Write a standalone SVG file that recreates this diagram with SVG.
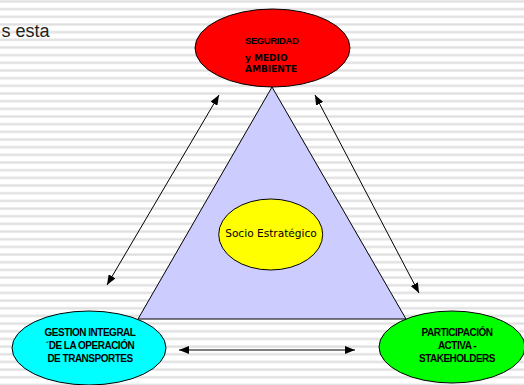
<svg xmlns="http://www.w3.org/2000/svg" width="524" height="385" viewBox="0 0 524 385">
  <defs>
    <pattern id="stripes" patternUnits="userSpaceOnUse" x="0" y="0" width="524" height="7.67">
      <rect x="0" y="0" width="524" height="7.67" fill="#ffffff"/>
      <rect x="0" y="0.3" width="524" height="2.3" fill="#e0e0e0"/>
    </pattern>
    <marker id="ah" viewBox="0 0 10 8" refX="10" refY="4" markerWidth="10" markerHeight="8" markerUnits="userSpaceOnUse" orient="auto-start-reverse">
      <path d="M0,0 L10,4 L0,8 Z" fill="#000"/>
    </marker>
    <style>
      .node { stroke: #000; stroke-width: 1; }
      .lbl { font-family: "Liberation Sans", Arial, sans-serif; font-weight: bold; font-size: 10px; letter-spacing: -0.5px; fill: #000; text-anchor: middle; }
      .lblv { font-family: "DejaVu Sans", Verdana, sans-serif; font-weight: bold; font-size: 9px; fill: #000; }
      .conn { stroke: #000; stroke-width: 1; fill: none; marker-start: url(#ah); marker-end: url(#ah); }
    </style>
  </defs>

  <rect x="0" y="0" width="524" height="385" fill="url(#stripes)"/>

  <text x="49.5" y="37" font-family="'Liberation Sans', Arial, sans-serif" font-size="18" fill="#222" text-anchor="end">s esta</text>

  <g id="triangle">
    <polygon points="272,87 138,319 406,319" fill="#ccccff" stroke="#000" stroke-width="1"/>
  </g>

  <g id="seguridad">
    <ellipse class="node" cx="272.5" cy="48" rx="77.5" ry="39" fill="#ff0000"/>
    <text x="245" y="44" font-family="'Liberation Sans', Arial, sans-serif" font-weight="bold" font-size="9.5" letter-spacing="-0.4" fill="#000">SEGURIDAD</text>
    <text class="lblv" x="245" y="61">y MEDIO</text>
    <text class="lblv" x="245" y="72">AMBIENTE</text>
  </g>

  <g id="socio">
    <ellipse class="node" cx="270.7" cy="234.5" rx="52" ry="35.5" fill="#ffff00"/>
    <text x="271" y="236.5" font-family="'DejaVu Sans', Verdana, sans-serif" font-size="10.6" fill="#000" text-anchor="middle">Socio Estratégico</text>
  </g>

  <g id="gestion">
    <ellipse class="node" cx="89" cy="348" rx="77" ry="37" fill="#00ffff"/>
    <text class="lbl" x="90" y="336">GESTION INTEGRAL</text>
    <text class="lbl" x="90" y="349">´DE LA OPERACIÓN</text>
    <text class="lbl" x="90" y="362">DE TRANSPORTES</text>
  </g>

  <g id="participacion">
    <ellipse class="node" cx="452" cy="347" rx="73" ry="36" fill="#00ff00"/>
    <text class="lbl" x="457" y="336">PARTICIPACIÓN</text>
    <text class="lbl" x="457" y="349">ACTIVA -</text>
    <text class="lbl" x="457" y="362">STAKEHOLDERS</text>
  </g>

  <g id="connectors">
    <line class="conn" x1="107" y1="285" x2="219" y2="95"/>
    <line class="conn" x1="315" y1="95" x2="419" y2="293"/>
    <line class="conn" x1="179" y1="350" x2="355" y2="350"/>
  </g>
</svg>
